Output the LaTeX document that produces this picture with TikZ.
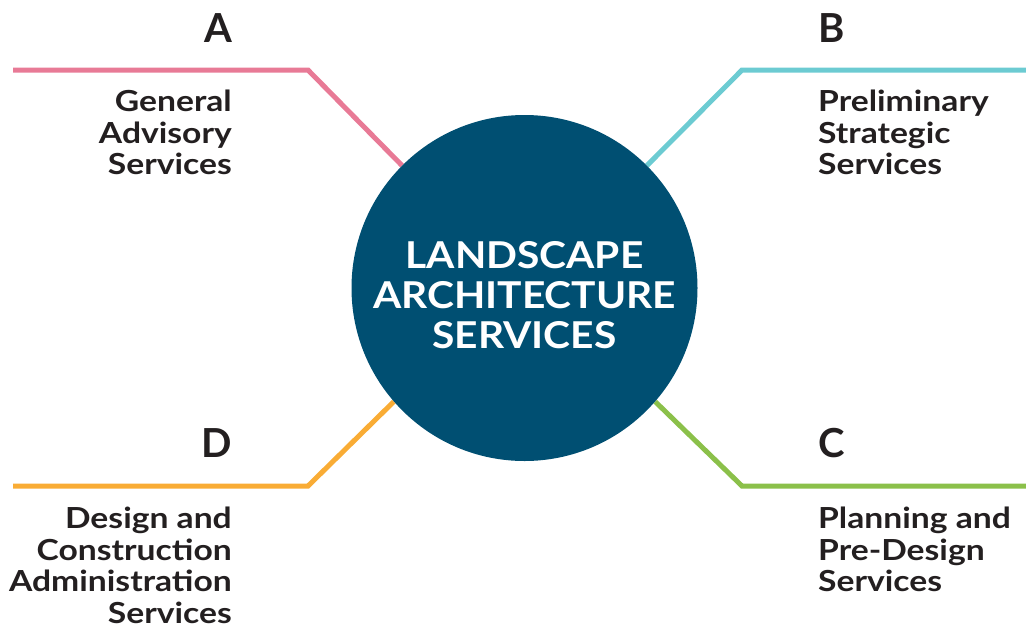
\documentclass[tikz,border=0pt]{standalone}
\usepackage{fontspec}
\setmainfont{Lato}
\newfontfamily\servicefont{Lato}[FakeStretch=1.16]
\newfontfamily\titlefont{Lato}[FakeStretch=1.10]
\usepackage{tikz}
\usetikzlibrary{positioning}
\usetikzlibrary{backgrounds}
\tikzset{every picture/.style={x=1pt, y=-1pt}}
\definecolor{hubBlue}{HTML}{004F72}
\definecolor{pastelPink}{HTML}{E87A96}
\definecolor{pastelCyan}{HTML}{6CCBD2}
\definecolor{pastelOrange}{HTML}{F9AC35}
\definecolor{pastelGreen}{HTML}{8BC04A}
\definecolor{inkBlack}{HTML}{231F20}
\tikzstyle{hubdisc}=[circle,fill=hubBlue,minimum size=346pt,inner sep=0pt]
\tikzstyle{hubtitle}=[inner sep=0pt,align=center,text=white,font=\titlefont\bfseries\fontsize{37}{40}\selectfont]
\tikzstyle{letter}=[inner sep=0pt,text=inkBlack,font=\bfseries\fontsize{40}{40}\selectfont]
\tikzstyle{service}=[inner sep=0pt,text=inkBlack,font=\servicefont\bfseries\fontsize{29}{31.5}\selectfont]
\tikzstyle{branch}=[line width=5pt]
\begin{document}
\begin{tikzpicture}
        \useasboundingbox (0,0) rectangle (1026,625);
        % centre
        \node [hubdisc] (hub) at (524.5,288) {};
        \node [hubtitle] (title) at (524.5,295) {LANDSCAPE\\ARCHITECTURE\\SERVICES};
        % letters and services
        \node [letter,anchor=base east] (A) at (232,42) {A};
        \node [service,anchor=north east,align=right] (servA) at (232,90) {General\\Advisory\\Services};
        \node [letter,anchor=base west] (B) at (818,42) {B};
        \node [service,anchor=north west,align=left] (servB) at (818,90) {Preliminary\\Strategic\\Services};
        \node [letter,anchor=base west] (C) at (818,457) {C};
        \node [service,anchor=north west,align=left] (servC) at (818,507) {Planning and\\Pre-Design\\Services};
        \node [letter,anchor=base east] (D) at (232,457) {D};
        \node [service,anchor=north east,align=right] (servD) at (232,507) {Design and\\Construction\\Administration\\Services};
        % branches
        \coordinate (endA) at (13,70);    \coordinate (bendA) at (308,70);
        \coordinate (endB) at (1026,70);  \coordinate (bendB) at (742,70);
        \coordinate (endC) at (1026,486); \coordinate (bendC) at (742,486);
        \coordinate (endD) at (13,486);   \coordinate (bendD) at (308,486);
        \begin{scope}[on background layer]
        \draw [branch,pastelPink] (endA) -- (bendA) -- (hub.135);
        \draw [branch,pastelCyan] (endB) -- (bendB) -- (hub.45);
        \draw [branch,pastelGreen] (endC) -- (bendC) -- (hub.319);
        \draw [branch,pastelOrange] (endD) -- (bendD) -- (hub.221);
        \end{scope}
\end{tikzpicture}
\end{document}
